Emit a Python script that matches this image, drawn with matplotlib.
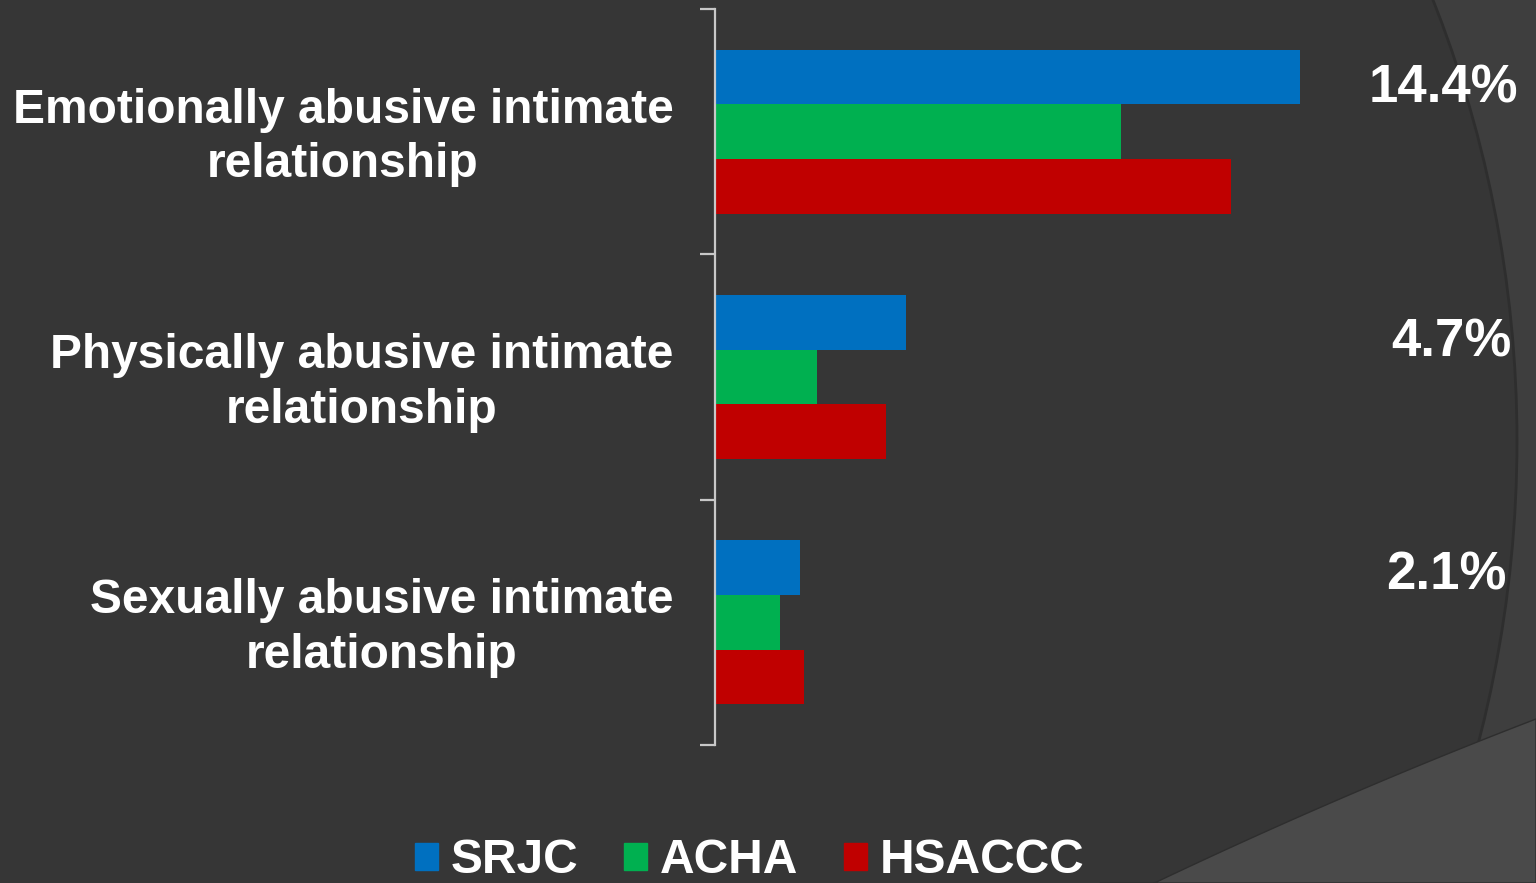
import matplotlib.pyplot as plt
import matplotlib.patches as mpatches
import matplotlib.transforms as mtrans
import numpy as np

# categories and values (%)
categories = ['Emotionally abusive intimate\nrelationship',
              'Physically abusive intimate\nrelationship',
              'Sexually abusive intimate\nrelationship']
series = ['SRJC', 'ACHA', 'HSACCC']
srjc = [14.4, 4.7, 2.1]
acha = [10.0, 2.5, 1.6]
hsaccc = [12.7, 4.2, 2.2]
labels = ['14.4%', '4.7%', '2.1%']

colors = ['#0070C0', '#00B050', '#C00000']
bg = '#363636'

plt.rcParams['font.family'] = ['Liberation Sans', 'DejaVu Sans']
plt.rcParams['font.weight'] = 'bold'

fig = plt.figure(figsize=(15.36, 8.83), dpi=100, facecolor=bg)

# background decoration: big circle and lighter band bottom right
W, H = 1536, 883
fig.patches.append(mpatches.Rectangle((0, 0), 1, 1, transform=fig.transFigure,
                                      facecolor='#3e3e3e', zorder=-10))
circ = mpatches.Ellipse((317 / W, 1 - 441 / H), 2 * 1200 / W, 2 * 1200 / H,
                        transform=fig.transFigure, facecolor=bg,
                        edgecolor='#2e2e2e', linewidth=2, zorder=-9)
fig.patches.append(circ)
bx = np.linspace(1100, 1536, 50)
by = 845 - (bx - 1236) * 0.42 + 0.00012 * (bx - 1236) * (bx - 1536)
band = mpatches.Polygon(np.column_stack([np.r_[bx, W, 1100] / W,
                                         1 - np.r_[by, H, H] / H]),
                        closed=True, transform=fig.transFigure,
                        facecolor='#4a4a4a', edgecolor='#2e2e2e',
                        linewidth=1, zorder=-8)
fig.patches.append(band)

ax = fig.add_axes([715 / W, 1 - 745 / H, (1340 - 715) / W, 736 / H])
ax.set_facecolor('none')

y = np.arange(len(categories))
h = 0.2225
for vals, off, c in zip([srjc, acha, hsaccc], [-h, 0, h], colors):
    ax.barh(y + off, vals, height=h, color=c)

ax.set_xlim(0, 625 / 40.6)
ax.set_ylim(2.5, -0.5)
ax.set_xticks([])
for s in ['top', 'right', 'bottom']:
    ax.spines[s].set_visible(False)
ax.spines['left'].set_color('#c8c8c8')
ax.spines['left'].set_linewidth(1.6)

ax.set_yticks([-0.5, 0.5, 1.5, 2.5])
ax.set_yticklabels([])
ax.tick_params(axis='y', which='major', length=10.5, width=1.6,
               color='#c8c8c8', direction='out')
ax.set_yticks(y, minor=True)
ax.set_yticklabels(categories, minor=True, fontsize=34.5, color='white',
                   fontweight='bold', multialignment='center',
                   linespacing=1.28)
ax.tick_params(axis='y', which='minor', length=0, pad=30)
shift = mtrans.ScaledTranslation(0, 4 / 100, fig.dpi_scale_trans)
for lbl in ax.get_yticklabels(minor=True):
    lbl.set_transform(lbl.get_transform() + shift)

# percentage labels at the right (x in axes fraction, y offset from group)
lab_x = [1.166, 1.178, 1.170]
lab_dy = [-0.176, -0.141, -0.190]
for i, t in enumerate(labels):
    ax.text(lab_x[i], i + lab_dy[i], t,
            transform=ax.get_yaxis_transform(), ha='center', va='center',
            fontsize=38, color='white', fontweight='bold')

handles = [mpatches.Patch(color=c) for c in colors]
fig.legend(handles, series, loc='center', bbox_to_anchor=(0.488, 0.025),
           ncol=3, frameon=False, fontsize=34.5, labelcolor='white',
           handlelength=0.48, handleheight=0.5, handletextpad=0.27,
           columnspacing=0.95)

fig.savefig('out.png', dpi=100, facecolor=bg)
